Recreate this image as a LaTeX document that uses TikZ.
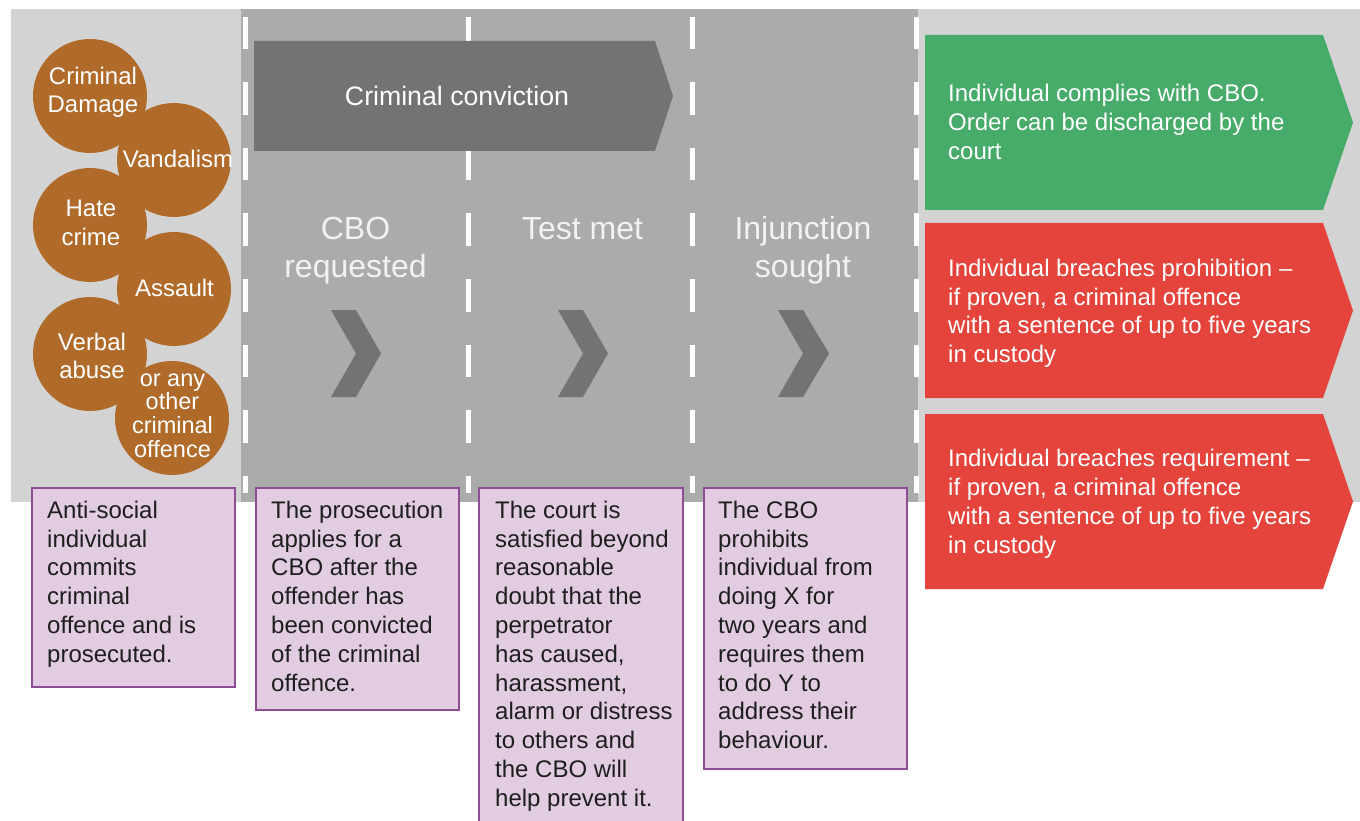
\documentclass[tikz,border=0pt]{standalone}
\usepackage{fontspec}
\setmainfont{Liberation Sans}
\newcommand\myfs{\rule{0pt}{.85em}}
\definecolor{bglight}{HTML}{D3D3D3}
\definecolor{bgdark}{HTML}{ABABAB}
\definecolor{arrgray}{HTML}{737373}
\definecolor{orng}{HTML}{B06B2A}
\definecolor{grn}{HTML}{47AB6A}
\definecolor{rd}{HTML}{E5443C}
\definecolor{pfill}{HTML}{E2CCE2}
\definecolor{pline}{HTML}{8E4C95}
\definecolor{stagetxt}{HTML}{F2F2F2}
\definecolor{boxtxt}{HTML}{1E1E1E}
\begin{document}
\begin{tikzpicture}[x=1pt,y=-1pt,
  txt/.style={inner sep=0pt, font=\fontsize{24}{28.8}\selectfont},
  circ/.style={circle, fill=orng, minimum size=114, inner sep=0pt},
  ctxt/.style={txt, text=white, align=center},
  stxt/.style={inner sep=0pt, text=stagetxt, align=center, font=\fontsize{32}{38}\selectfont},
  pbox/.style={rectangle, fill=pfill, draw=pline, line width=1.6, inner sep=0pt, anchor=north west},
  btxt/.style={txt, text=boxtxt, align=left, anchor=north west},
  rtxt/.style={txt, text=white, align=left, anchor=north west},
  divider/.style={white, line width=5, dash pattern=on 32.5 off 33},
  chev/.style={fill=arrgray}
]
\useasboundingbox (0,0) rectangle (1360,821);
% backgrounds
\fill[bglight] (11,9) rectangle (1360,502);
\fill[bgdark] (241,9) rectangle (918,502);
% dividers
\coordinate (d1t) at (245,17);  \coordinate (d1b) at (245,493);
\coordinate (d2t) at (468,17);  \coordinate (d2b) at (468,493);
\coordinate (d3t) at (692,17);  \coordinate (d3b) at (692,493);
\coordinate (d4t) at (916,17);  \coordinate (d4b) at (916,493);
\draw[divider] (d1t) -- (d1b);
\draw[divider] (d2t) -- (d2b);
\draw[divider] (d3t) -- (d3b);
\draw[divider] (d4t) -- (d4b);
% criminal conviction arrow
\fill[arrgray] (254,41) -- (655,41) -- (673,96) -- (655,151) -- (254,151) -- cycle;
\node[inner sep=0pt, text=white, anchor=base, font=\fontsize{26.7}{32}\selectfont] (conv) at (457,106) {Criminal conviction};
% stage labels
\node[stxt, anchor=north] (s1) at (355.5,211.8) {\myfs CBO\\requested};
\node[stxt, anchor=base] (s2) at (582.5,240) {Test met};
\node[stxt, anchor=north] (s3) at (803,211.8) {\myfs Injunction\\sought};
% chevrons
\fill[chev] (331,310) -- (356,310) -- (381,353.5) -- (356,397) -- (331,397) -- (356,353.5) -- cycle;
\fill[chev] (558,310) -- (583,310) -- (608,353.5) -- (583,397) -- (558,397) -- (583,353.5) -- cycle;
\fill[chev] (778,310) -- (803,310) -- (829,353.5) -- (803,397) -- (778,397) -- (803,353.5) -- cycle;
% circles
\node[circ] (c1) at (90,96) {};
\node[circ] (c2) at (174,160) {};
\node[circ] (c3) at (90,225) {};
\node[circ] (c4) at (174,289) {};
\node[circ] (c5) at (90,354) {};
\node[circ] (c6) at (172,418) {};
\node[ctxt, anchor=north] (t1) at (93,63.6) {\myfs Criminal\\Damage};
\node[ctxt, anchor=base] (t2) at (178,168) {Vandalism};
\node[ctxt, anchor=north] (t3) at (91,195.6) {\myfs Hate\\crime};
\node[ctxt, anchor=base] (t4) at (174.5,296) {Assault};
\node[ctxt, anchor=north, font=\fontsize{24}{28}\selectfont] (t5) at (92,329.6) {\myfs Verbal\\abuse};
\node[ctxt, anchor=north, font=\fontsize{23.5}{23.7}\selectfont] (t6) at (172.5,366) {\myfs or any\\other\\criminal\\offence};
% purple boxes
\node[pbox, minimum width=203, minimum height=199] (b1) at (31,487) {};
\node[pbox, minimum width=203, minimum height=222] (b2) at (255,487) {};
\node[pbox, minimum width=204, minimum height=380] (b3) at (478,487) {};
\node[pbox, minimum width=203, minimum height=281] (b4) at (703,487) {};
\node[btxt] (bt1) at (47,497.6) {\myfs Anti-social\\individual\\commits\\criminal\\offence and is\\prosecuted.};
\node[btxt] (bt2) at (271,497.6) {\myfs The prosecution\\applies for a\\CBO after the\\offender has\\been convicted\\of the criminal\\offence.};
\node[btxt] (bt3) at (495,497.6) {\myfs The court is\\satisfied beyond\\reasonable\\doubt that the\\perpetrator\\has caused,\\harassment,\\alarm or distress\\to others and\\the CBO will\\help prevent it.};
\node[btxt] (bt4) at (718,497.6) {\myfs The CBO\\prohibits\\individual from\\doing X for\\two years and\\requires them\\to do Y to\\address their\\behaviour.};
% outcome arrows
\fill[grn] (925,35) -- (1323,35) -- (1353,122.5) -- (1323,210) -- (925,210) -- cycle;
\fill[rd] (925,223) -- (1323,223) -- (1353,310.5) -- (1323,398) -- (925,398) -- cycle;
\fill[rd] (925,414) -- (1323,414) -- (1353,501.5) -- (1323,589) -- (925,589) -- cycle;
\node[rtxt] (o1) at (948,81.3) {\myfs Individual complies with CBO.\\Order can be discharged by the\\court};
\node[rtxt] (o2) at (948,255.6) {\myfs Individual breaches prohibition –\\if proven, a criminal offence\\with a sentence of up to five years\\in custody};
\node[rtxt] (o3) at (948,446.3) {\myfs Individual breaches requirement –\\if proven, a criminal offence\\with a sentence of up to five years\\in custody};
\end{tikzpicture}
\end{document}
